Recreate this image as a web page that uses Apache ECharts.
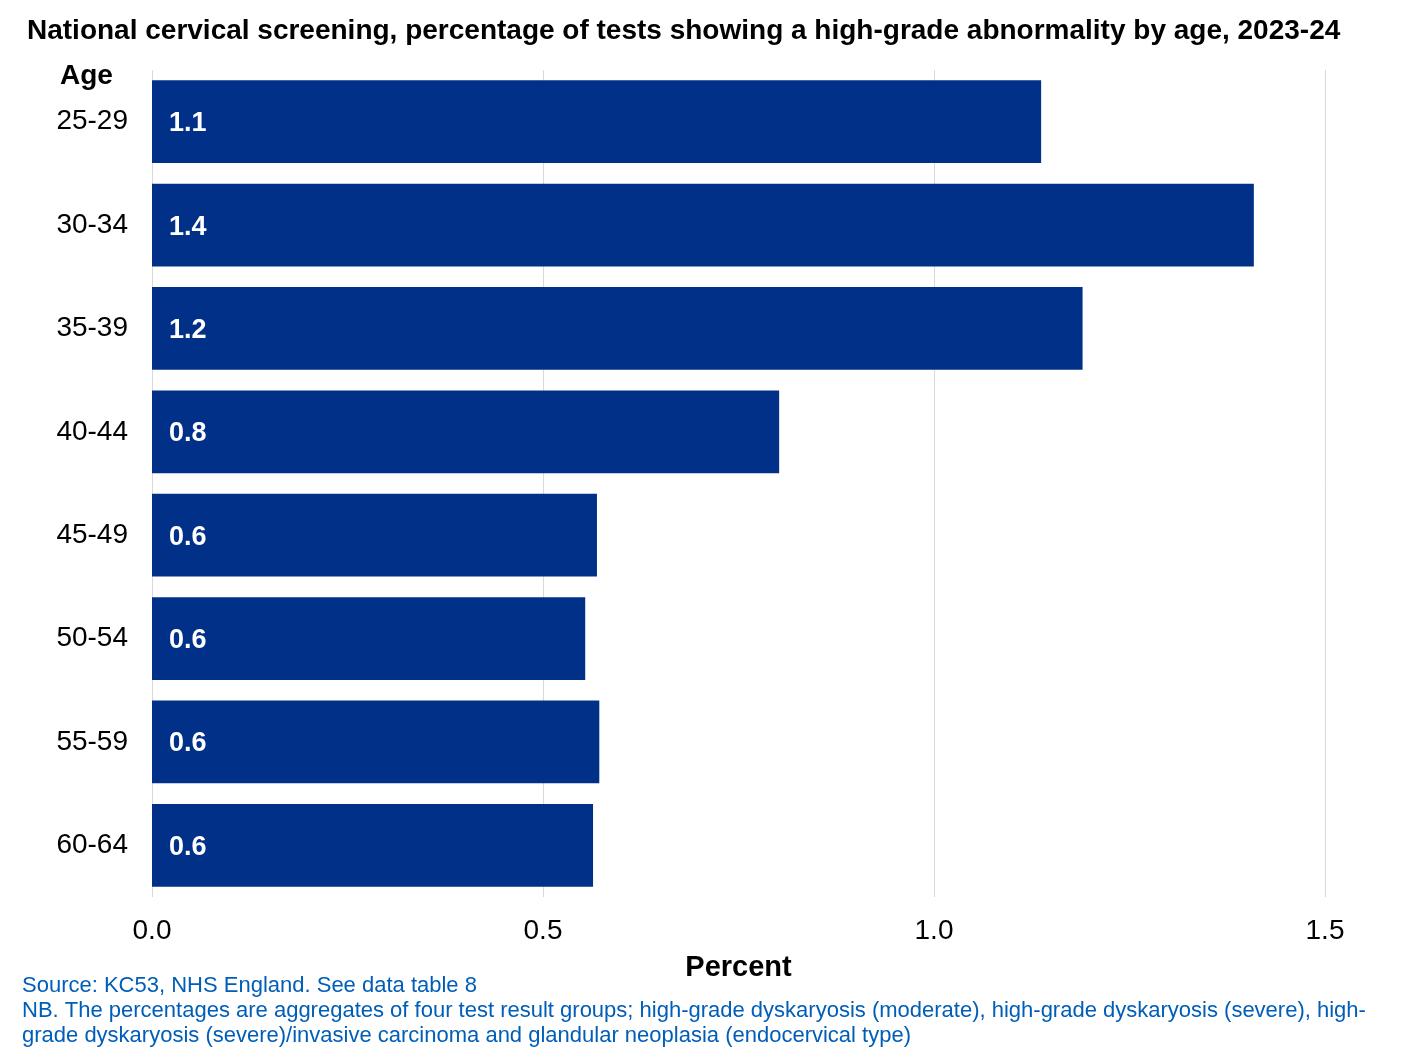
<!DOCTYPE html>
<html>
<head>
<meta charset="utf-8">
<script src="https://cdn.jsdelivr.net/npm/echarts@6/dist/echarts.min.js"></script>
<style>
  html, body { margin: 0; padding: 0; background: #fff; }
  #chart { width: 1411px; height: 1059px; }
</style>
</head>
<body>
<div id="chart"></div>
<script>
const ageGroups = ['25-29', '30-34', '35-39', '40-44', '45-49', '50-54', '55-59', '60-64'];
const percentValues = [1.137, 1.409, 1.190, 0.802, 0.569, 0.554, 0.572, 0.564];
const xTicks = [0, 0.5, 1.0, 1.5];

const titleText = 'National cervical screening, percentage of tests showing a high-grade abnormality by age, 2023-24';
const sourceLines = [
  'Source: KC53, NHS England. See data table 8',
  'NB. The percentages are aggregates of four test result groups; high-grade dyskaryosis (moderate), high-grade dyskaryosis (severe), high-',
  'grade dyskaryosis (severe)/invasive carcinoma and glandular neoplasia (endocervical type)'
];

const font = '"Liberation Sans", Arial, sans-serif';
const chart = echarts.init(document.getElementById('chart'));

const option = {
  animation: false,
  textStyle: { fontFamily: font },
  title: {
    text: titleText,
    left: 22,
    top: 12,
    textStyle: { fontSize: 28, fontWeight: 'bold', color: '#000', fontFamily: font }
  },
  grid: { left: 152, right: 86, top: 70, bottom: 162, containLabel: false },
  xAxis: {
    type: 'value',
    min: 0,
    max: 1.5,
    interval: 0.5,
    name: 'Percent',
    nameLocation: 'middle',
    nameGap: 56,
    nameTextStyle: { fontSize: 29, fontWeight: 'bold', color: '#000' },
    axisLine: { show: false },
    axisTick: { show: false },
    axisLabel: {
      fontSize: 28,
      color: '#000',
      margin: 20,
      formatter: v => xTicks.includes(v) ? v.toFixed(1) : ''
    },
    splitLine: { show: true, lineStyle: { color: '#d9d9d9', width: 1 } }
  },
  yAxis: {
    type: 'category',
    data: ageGroups,
    inverse: true,
    axisLine: { show: false },
    axisTick: { show: false },
    axisLabel: { fontSize: 28, color: '#000', margin: 24, padding: [4, 0, 0, 0] }
  },
  series: [{
    type: 'bar',
    data: percentValues,
    barCategoryGap: '20%',
    itemStyle: { color: '#003087' },
    label: {
      show: true,
      position: 'insideLeft',
      distance: 17,
      offset: [0, 2],
      color: '#fff',
      fontSize: 27,
      fontWeight: 'bold',
      formatter: p => p.value.toFixed(1)
    }
  }],
  graphic: [
    {
      type: 'text',
      left: 60,
      top: 62,
      style: { text: 'Age', fontSize: 28, fontWeight: 'bold', fill: '#000', fontFamily: font }
    },
    ...sourceLines.map((line, i) => ({
      type: 'text',
      left: 22,
      top: 975 + i * 25,
      style: { text: line, fontSize: 22, fill: '#005EB8', fontFamily: font }
    }))
  ]
};

chart.setOption(option);
</script>
</body>
</html>
